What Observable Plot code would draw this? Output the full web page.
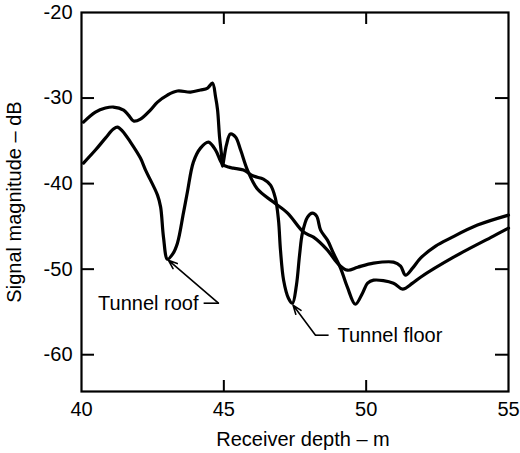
<!DOCTYPE html>
<html><head><meta charset="utf-8">
<script src="https://cdn.jsdelivr.net/npm/d3@7"></script>
<script src="https://cdn.jsdelivr.net/npm/@observablehq/plot@0.6"></script>
<style>body{margin:0;background:#fff} svg{display:block}</style>
</head><body><div id="chart"></div>
<script>
// Curve without tunnel signature (upper at left)
const depthA = [40.07,40.49,40.84,41.12,41.48,41.65,41.83,42.07,42.42,42.67,43.02,43.37,43.83,44.18,44.43,44.60,44.71,44.78,44.85,44.92,44.95,45.09,45.23,45.41,45.59,45.83,46.18,46.74,47.24,47.80,48.15,48.64,48.99,49.34,49.70,50.26,50.96,51.21,51.38,51.63,51.91,52.44,52.96,53.91,55.00];
const dbA = [-32.81,-31.64,-31.17,-31.05,-31.40,-31.99,-32.69,-32.46,-31.40,-30.47,-29.65,-29.18,-29.30,-29.06,-28.83,-28.25,-29.88,-31.40,-34.56,-36.67,-37.95,-35.50,-34.21,-34.56,-36.08,-38.42,-40.64,-42.16,-43.45,-45.67,-46.26,-47.78,-49.30,-50.12,-49.77,-49.30,-49.18,-49.65,-50.70,-49.88,-48.71,-47.31,-46.37,-44.85,-43.68];
// Curve with tunnel roof and floor dips
const depthB = [40.07,40.49,40.84,41.12,41.26,41.44,41.72,42.07,42.25,42.67,42.78,42.88,43.02,43.20,43.37,43.58,43.72,43.93,44.18,44.46,44.71,44.95,45.16,45.34,45.69,46.04,46.39,46.64,46.81,46.92,46.99,47.10,47.27,47.41,47.55,47.66,47.76,47.94,48.11,48.26,48.40,48.64,48.85,49.10,49.34,49.62,49.87,50.05,50.26,50.96,51.28,51.63,51.91,53.07,54.47,55.00];
const dbB = [-37.60,-36.08,-34.68,-33.63,-33.39,-33.86,-35.15,-37.02,-38.42,-41.35,-42.75,-46.26,-48.83,-48.25,-46.96,-43.45,-40.99,-37.49,-35.85,-35.15,-36.08,-37.72,-38.07,-38.19,-38.42,-39.12,-39.47,-40.18,-41.70,-44.27,-47.78,-51.29,-53.39,-53.98,-51.87,-48.36,-45.79,-43.92,-43.45,-43.80,-45.44,-46.61,-48.13,-49.88,-52.11,-54.10,-52.81,-51.64,-51.29,-51.64,-52.34,-51.64,-50.94,-48.60,-46.14,-45.20];

const xTicks = [40, 45, 50, 55];
const yTicks = [-20, -30, -40, -50, -60];
const innerXTicks = [45, 50];
const innerYTicks = [-30, -40, -50, -60];

const labelText = ["Tunnel roof", "Tunnel floor"];
const labelDepth = [44.11, 48.99];
const labelDb = [-53.98, -57.72];
// leader dash (from, to) and arrow (from vertex to dip)
const dashDepth1 = [44.29, 48.68], dashDepth2 = [44.81, 48.22];
const dashDb = [-53.98, -57.72];
const arrowTipDepth = [43.05, 47.43], arrowTipDb = [-48.95, -54.2];

const curveA = depthA.map((d, i) => ({depth: d, db: dbA[i]}));
const curveB = depthB.map((d, i) => ({depth: d, db: dbB[i]}));
const ann = labelText.map((t, i) => ({t, x: labelDepth[i], y: labelDb[i],
  dx1: dashDepth1[i], dx2: dashDepth2[i], dy: dashDb[i], tx: arrowTipDepth[i], ty: arrowTipDb[i]}));

const W = 520, H = 453, ML = 81, MR = 12, MT = 12, MB = 62;
const FW = W - ML - MR, FH = H - MT - MB;
const font = "Liberation Sans, Arial, Helvetica, sans-serif";
const chart = Plot.plot({
  width: W, height: H,
  marginLeft: ML, marginRight: MR, marginTop: MT, marginBottom: MB,
  style: {fontFamily: font, fontSize: "20px", background: "#fff"},
  x: {domain: [40, 55]},
  y: {domain: [-64.3, -20]},
  marks: [
    Plot.axisY(yTicks, {tickSize: 0, tickPadding: 9, fontSize: 20, label: null, tickFormat: d => String(d)}),
    Plot.axisX(xTicks, {tickSize: 0, tickPadding: 10, fontSize: 20, label: null}),
    Plot.frame({stroke: "#000", strokeWidth: 2.2}),
    // inward ticks on all four sides
    Plot.tickY(innerYTicks, {y: d => d, insetRight: FW - 13, stroke: "#000", strokeWidth: 2}),
    Plot.tickY(innerYTicks, {y: d => d, insetLeft: FW - 13, stroke: "#000", strokeWidth: 2}),
    Plot.tickX(innerXTicks, {x: d => d, insetTop: FH - 11, stroke: "#000", strokeWidth: 2}),
    Plot.tickX(innerXTicks, {x: d => d, insetBottom: FH - 12, stroke: "#000", strokeWidth: 2}),
    Plot.line(curveA, {x: "depth", y: "db", curve: "catmull-rom", stroke: "#000", strokeWidth: 3.2}),
    Plot.line(curveB, {x: "depth", y: "db", curve: "catmull-rom", stroke: "#000", strokeWidth: 3.2}),
    Plot.link(ann, {x1: "dx1", x2: "dx2", y1: "dy", y2: "dy", stroke: "#000", strokeWidth: 1.6}),
    Plot.arrow(ann, {x1: "dx2", y1: "dy", x2: "tx", y2: "ty", stroke: "#000", strokeWidth: 1.6, headLength: 9, headAngle: 40}),
    Plot.text([ann[0]], {x: "x", y: "y", text: "t", textAnchor: "end", fontSize: 20, fill: "#000"}),
    Plot.text([ann[1]], {x: "x", y: "y", text: "t", textAnchor: "start", fontSize: 20, fill: "#000"}),
    Plot.text(["Receiver depth – m"], {frameAnchor: "bottom", dx: 8, dy: 54, fontSize: 20, fill: "#000"}),
    Plot.text(["Signal magnitude – dB"], {frameAnchor: "left", textAnchor: "middle", rotate: -90, dx: -67, fontSize: 20, fill: "#000"})
  ]
});
document.getElementById("chart").appendChild(chart);
</script>
</body></html>
